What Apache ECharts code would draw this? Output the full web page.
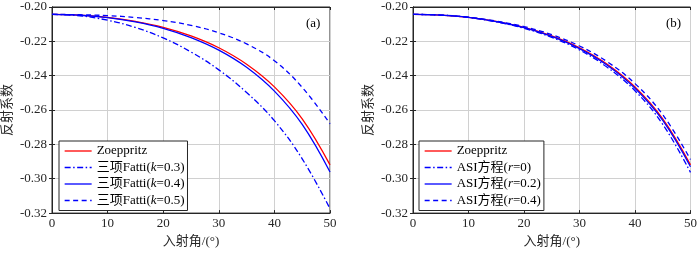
<!DOCTYPE html>
<html>
<head>
<meta charset="utf-8">
<script src="https://cdn.jsdelivr.net/npm/echarts@6/dist/echarts.min.js"></script>
<style>
  html, body { margin: 0; padding: 0; background: #fff; }
  #chart { width: 700px; height: 253px; }
</style>
</head>
<body>
<div id="chart"></div>
<script>
// incidence angle (deg)
var angles = [0, 5, 10, 15, 20, 25, 30, 35, 40, 45, 50];
var xTicks = [0, 10, 20, 30, 40, 50];
var yTicks = [-0.32, -0.30, -0.28, -0.26, -0.24, -0.22, -0.20];

// panel (a)
var zoeppritz = [-0.2043, -0.2047, -0.2060, -0.2084, -0.2118, -0.2168, -0.2237, -0.2333, -0.2465, -0.2651, -0.2919];
var fattiK03 = [-0.2043, -0.2051, -0.2077, -0.2119, -0.2180, -0.2262, -0.2366, -0.2498, -0.2662, -0.2884, -0.3174];
var fattiK04 = [-0.2043, -0.2048, -0.2062, -0.2087, -0.2124, -0.2178, -0.2251, -0.2351, -0.2490, -0.2684, -0.2961];
var fattiK05 = [-0.2043, -0.2045, -0.2050, -0.2061, -0.2079, -0.2107, -0.2150, -0.2215, -0.2313, -0.2468, -0.2680];

// panel (b)
var asiR0 = [-0.2043, -0.2047, -0.2061, -0.2087, -0.2124, -0.2177, -0.2250, -0.2351, -0.2488, -0.2683, -0.2963];
var asiR02 = [-0.2043, -0.2047, -0.2060, -0.2085, -0.2120, -0.2171, -0.2242, -0.2339, -0.2473, -0.2660, -0.2930];
var asiR04 = [-0.2043, -0.2047, -0.2059, -0.2082, -0.2114, -0.2161, -0.2227, -0.2319, -0.2446, -0.2627, -0.2888];

var namesA = ['Zoeppritz', '三项Fatti(k=0.3)', '三项Fatti(k=0.4)', '三项Fatti(k=0.5)'];
var namesB = ['Zoeppritz', 'ASI方程(r=0)', 'ASI方程(r=0.2)', 'ASI方程(r=0.4)'];

var FONT = '"Liberation Serif", "Noto Sans CJK SC", serif';
var DASH = [5, 3.5];
var DASHDOT = [6, 2.5, 1.5, 2.5];

function pairs(ys) {
    return angles.map(function (a, i) { return [a, ys[i]]; });
}

function xAx(grid, top) {
    return {
        type: 'value', gridIndex: grid, position: top ? 'top' : 'bottom',
        min: xTicks[0], max: xTicks[xTicks.length - 1], interval: 10,
        name: top ? '' : '入射角/(°)', nameLocation: 'middle', nameGap: 14,
        nameTextStyle: { fontFamily: FONT, fontSize: 13, color: '#262626' },
        axisLine: { lineStyle: { color: '#262626', width: 1 } },
        axisTick: { inside: true, length: 3, lineStyle: { color: '#262626' } },
        axisLabel: { show: !top, margin: 4, fontFamily: FONT, fontSize: 13, color: '#262626' },
        splitLine: { show: !top, lineStyle: { color: '#d0d0d0', width: 1 } }
    };
}

function yAx(grid, right) {
    return {
        type: 'value', gridIndex: grid, position: right ? 'right' : 'left',
        min: yTicks[0], max: yTicks[yTicks.length - 1], interval: 0.02,
        name: right ? '' : '反射系数', nameLocation: 'middle', nameGap: 38,
        nameTextStyle: { fontFamily: FONT, fontSize: 13, color: '#262626' },
        axisLine: { lineStyle: { color: '#262626', width: 1 } },
        axisTick: { inside: true, length: 3, lineStyle: { color: '#262626' } },
        axisLabel: {
            show: !right, margin: 5, fontFamily: FONT, fontSize: 13, color: '#262626',
            formatter: function (v) { return v.toFixed(2); }
        },
        splitLine: { show: !right, lineStyle: { color: '#d0d0d0', width: 1 } }
    };
}

function line(name, ys, panel, color, type) {
    return {
        name: name, type: 'line', xAxisIndex: panel * 2, yAxisIndex: panel * 2,
        data: pairs(ys), smooth: 0.4, symbol: 'none',
        lineStyle: { color: color, width: 1.3, type: type },
        itemStyle: { color: color }
    };
}

function legendFor(names, left) {
    return {
        orient: 'vertical', left: left, top: 141, data: names,
        itemWidth: 27, itemHeight: 10, itemGap: 0.5,
        padding: [2, 3, 2, 5],
        backgroundColor: '#fff', borderColor: '#262626', borderWidth: 1, borderRadius: 0,
        selectedMode: false,
        // hide the marker dot, keep only the line sample
        itemStyle: { opacity: 0 },
        lineStyle: { width: 1.3 },
        textStyle: {
            fontFamily: FONT, fontSize: 13, color: '#000', lineHeight: 16,
            rich: { it: { fontFamily: FONT, fontSize: 13, fontStyle: 'italic', color: '#000', lineHeight: 16 } }
        },
        formatter: function (n) {
            return n.replace(/\((k|r)=/, '({it|$1}=');
        }
    };
}

var chart = echarts.init(document.getElementById('chart'));
chart.setOption({
    animation: false,
    backgroundColor: '#fff',
    grid: [
        { left: 52, right: 370, top: 7, bottom: 33, show: true, borderColor: '#262626', borderWidth: 1 },
        { left: 413, right: 8, top: 7, bottom: 33, show: true, borderColor: '#262626', borderWidth: 1 }
    ],
    xAxis: [xAx(0, false), xAx(0, true), xAx(1, false), xAx(1, true)],
    yAxis: [yAx(0, false), yAx(0, true), yAx(1, false), yAx(1, true)],
    legend: [legendFor(namesA, 59), legendFor(namesB, 419)],
    graphic: [
        { type: 'text', left: 306, top: 17, style: { text: '(a)', font: '13px ' + FONT, fill: '#000' } },
        { type: 'text', left: 666, top: 17, style: { text: '(b)', font: '13px ' + FONT, fill: '#000' } }
    ],
    series: [
        line(namesA[0], zoeppritz, 0, '#ff0000', 'solid'),
        line(namesA[1], fattiK03, 0, '#0000ff', DASHDOT),
        line(namesA[2], fattiK04, 0, '#0000ff', 'solid'),
        line(namesA[3], fattiK05, 0, '#0000ff', DASH),
        line(namesB[0], zoeppritz, 1, '#ff0000', 'solid'),
        line(namesB[1], asiR0, 1, '#0000ff', DASHDOT),
        line(namesB[2], asiR02, 1, '#0000ff', 'solid'),
        line(namesB[3], asiR04, 1, '#0000ff', DASH)
    ]
});
</script>
</body>
</html>
